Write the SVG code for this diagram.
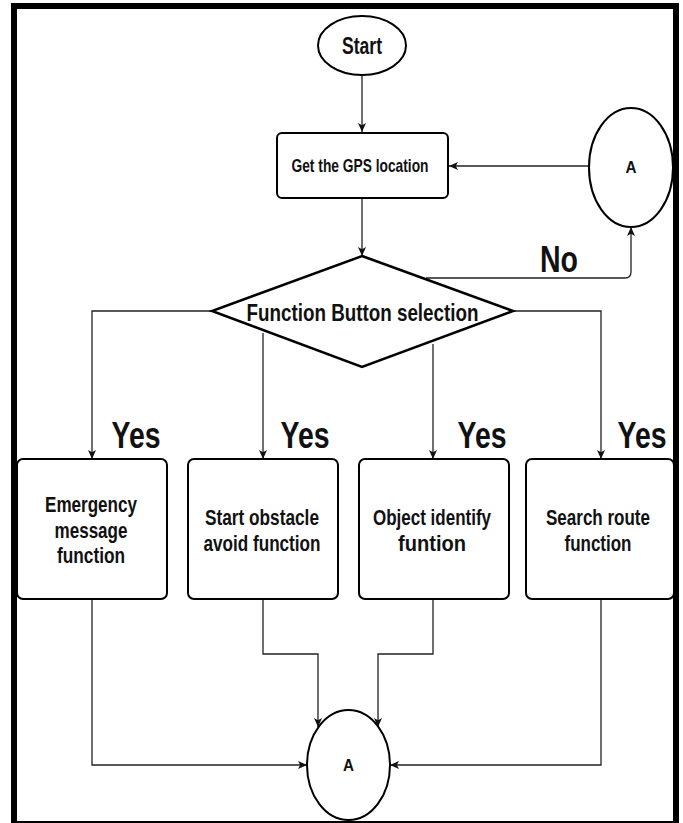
<svg xmlns="http://www.w3.org/2000/svg" width="683" height="823" viewBox="0 0 683 823">
<style>
.shape{fill:#fff;stroke:#000;stroke-width:2}
.dia{fill:#fff;stroke:#000;stroke-width:2.5}
.conn{fill:none;stroke:#222;stroke-width:1.3}
.t{font-family:"Liberation Sans",Arial,sans-serif;font-weight:bold;fill:#111;text-anchor:middle}
.box{font-size:22.5px}
.big{font-size:36px}
</style>
<defs>
<marker id="arr" markerUnits="userSpaceOnUse" markerWidth="10" markerHeight="8" viewBox="0 0 10 8" refX="9" refY="4" orient="auto">
<path d="M0,0 L9,4 L0,8 L2.2,4 Z" fill="#111"/>
</marker>
</defs>
<rect x="0" y="0" width="683" height="823" fill="#fff"/>
<g id="connectors">
<line class="conn" x1="362" y1="75" x2="362" y2="132" marker-end="url(#arr)"/>
<line class="conn" x1="589" y1="166" x2="449" y2="166" marker-end="url(#arr)"/>
<line class="conn" x1="362" y1="198" x2="362" y2="256" marker-end="url(#arr)"/>
<path class="conn" d="M426,278 H625 Q631,278 631,272 V227" marker-end="url(#arr)"/>
<path class="conn" d="M212,311 H92 V459" marker-end="url(#arr)"/>
<path class="conn" d="M263,333 V459" marker-end="url(#arr)"/>
<path class="conn" d="M433,344 V459" marker-end="url(#arr)"/>
<path class="conn" d="M513,311 H601 V459" marker-end="url(#arr)"/>
<path class="conn" d="M92,599 V765 H307" marker-end="url(#arr)"/>
<path class="conn" d="M263,599 V654 H318 V727" marker-end="url(#arr)"/>
<path class="conn" d="M433,599 V654 H378 V727" marker-end="url(#arr)"/>
<path class="conn" d="M601,599 V765 H390" marker-end="url(#arr)"/>
<text class="t big" x="559" y="272" textLength="38" lengthAdjust="spacingAndGlyphs">No</text>
<text class="t big" x="136" y="448" textLength="49" lengthAdjust="spacingAndGlyphs">Yes</text>
<text class="t big" x="305" y="448" textLength="49" lengthAdjust="spacingAndGlyphs">Yes</text>
<text class="t big" x="482" y="448" textLength="49" lengthAdjust="spacingAndGlyphs">Yes</text>
<text class="t big" x="642" y="448" textLength="49" lengthAdjust="spacingAndGlyphs">Yes</text>
</g>
<g id="start">
<ellipse class="shape" cx="362" cy="45.5" rx="44" ry="29.5"/>
<text class="t" x="362" y="53.5" font-size="23" textLength="40" lengthAdjust="spacingAndGlyphs">Start</text>
</g>
<g id="gps">
<rect class="shape" x="277" y="133" width="171" height="65" rx="5"/>
<text class="t" x="360" y="172" font-size="18.5" textLength="137" lengthAdjust="spacingAndGlyphs">Get the GPS location</text>
</g>
<g id="connectorA-top">
<ellipse class="shape" cx="631" cy="167.5" rx="42" ry="59.5"/>
<text class="t" x="631" y="173" font-size="17" textLength="11" lengthAdjust="spacingAndGlyphs">A</text>
</g>
<g id="decision">
<polygon class="dia" points="362,256 513,311 362,367 212,311"/>
<text class="t" x="362.5" y="320.5" font-size="24" textLength="232" lengthAdjust="spacingAndGlyphs">Function Button selection</text>
</g>
<g id="emergency">
<rect class="shape" x="17" y="459" width="150" height="140" rx="6"/>
<text class="t box" x="91" y="512" textLength="92" lengthAdjust="spacingAndGlyphs">Emergency</text>
<text class="t box" x="91" y="537.5" textLength="73" lengthAdjust="spacingAndGlyphs">message</text>
<text class="t box" x="91" y="563" textLength="68" lengthAdjust="spacingAndGlyphs">function</text>
</g>
<g id="obstacle">
<rect class="shape" x="188" y="459" width="150" height="140" rx="6"/>
<text class="t box" x="262" y="525" textLength="114" lengthAdjust="spacingAndGlyphs">Start obstacle</text>
<text class="t box" x="262" y="550.5" textLength="117" lengthAdjust="spacingAndGlyphs">avoid function</text>
</g>
<g id="object">
<rect class="shape" x="359" y="459" width="150" height="140" rx="6"/>
<text class="t box" x="432" y="525" textLength="118" lengthAdjust="spacingAndGlyphs">Object identify</text>
<text class="t box" x="432" y="550.5" textLength="68" lengthAdjust="spacingAndGlyphs">funtion</text>
</g>
<g id="search">
<rect class="shape" x="526" y="459" width="148" height="140" rx="6"/>
<text class="t box" x="598" y="525" textLength="104" lengthAdjust="spacingAndGlyphs">Search route</text>
<text class="t box" x="598" y="550.5" textLength="67" lengthAdjust="spacingAndGlyphs">function</text>
</g>
<g id="connectorA-bottom">
<ellipse class="shape" cx="348.5" cy="765" rx="41.5" ry="55"/>
<text class="t" x="348.5" y="771" font-size="17" textLength="11" lengthAdjust="spacingAndGlyphs">A</text>
</g>
<rect id="frame" x="14" y="6" width="662" height="818" fill="none" stroke="#000" stroke-width="6"/>
</svg>
